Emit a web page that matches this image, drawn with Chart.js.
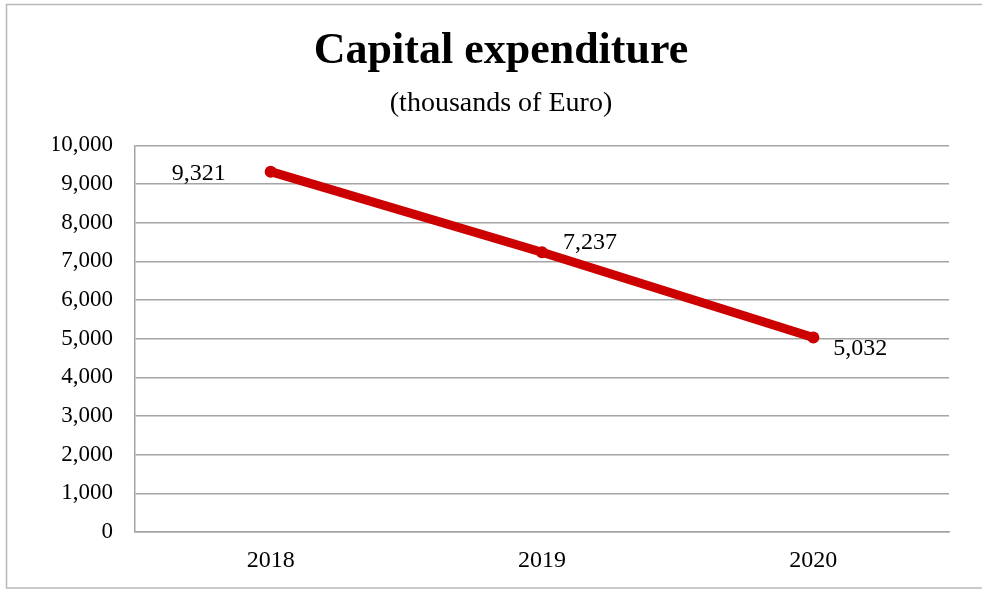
<!DOCTYPE html>
<html>
<head>
<meta charset="utf-8">
<script src="https://cdn.jsdelivr.net/npm/chart.js@4"></script>
<style>
  html, body { margin: 0; padding: 0; background: #ffffff; }
  #wrap { position: relative; width: 982px; height: 590px; }
</style>
</head>
<body>
<div id="wrap"><canvas id="c" width="982" height="590"></canvas></div>
<script>
const categories = ['2018', '2019', '2020'];
const capex = [9321, 7237, 5032];
const yTicks = [0, 1000, 2000, 3000, 4000, 5000, 6000, 7000, 8000, 9000, 10000];
const titleText = 'Capital expenditure';
const subtitleText = '(thousands of Euro)';

const SERIF = '"Liberation Serif", "Times New Roman", serif';

const framePlugin = {
  id: 'frame',
  beforeDraw(chart) {
    const ctx = chart.ctx;
    ctx.save();
    ctx.fillStyle = '#ffffff';
    ctx.fillRect(0, 0, chart.width, chart.height);
    ctx.strokeStyle = '#b8b8b8';
    ctx.lineWidth = 1.5;
    ctx.strokeRect(6.5, 4.5, 990, 583.5);
    ctx.restore();
  }
};

const labelPlugin = {
  id: 'pointLabels',
  afterDatasetsDraw(chart) {
    const ctx = chart.ctx;
    const meta = chart.getDatasetMeta(0);
    const placement = [
      { align: 'right', dx: -45, dy: 2 },
      { align: 'left', dx: 21, dy: -10 },
      { align: 'left', dx: 20, dy: 11 }
    ];
    ctx.save();
    ctx.font = '24px ' + SERIF;
    ctx.fillStyle = '#000000';
    ctx.textBaseline = 'middle';
    meta.data.forEach((pt, i) => {
      const p = placement[i];
      ctx.textAlign = p.align;
      ctx.fillText(capex[i].toLocaleString('en-US'), pt.x + p.dx, pt.y + p.dy);
    });
    ctx.restore();
  }
};

new Chart(document.getElementById('c'), {
  type: 'line',
  data: {
    labels: categories,
    datasets: [{
      data: capex,
      borderColor: '#cc0000',
      backgroundColor: '#cc0000',
      borderWidth: 9,
      pointRadius: 6,
      pointBackgroundColor: '#cc0000',
      pointBorderWidth: 0,
      tension: 0,
      fill: false
    }]
  },
  options: {
    responsive: false,
    animation: false,
    layout: { padding: { left: 53, right: 33, top: 0, bottom: 0 } },
    plugins: {
      legend: { display: false },
      tooltip: { enabled: false },
      title: {
        display: true,
        text: titleText,
        color: '#000000',
        font: { family: SERIF, size: 44, weight: 'bold', lineHeight: 1.2 },
        padding: { top: 25, bottom: 4 }
      },
      subtitle: {
        display: true,
        text: subtitleText,
        color: '#000000',
        font: { family: SERIF, size: 28, weight: 'normal', lineHeight: 1.2 },
        padding: { top: 5, bottom: 25 }
      }
    },
    scales: {
      x: {
        offset: true,
        grid: { display: false, drawTicks: false },
        border: { display: true, color: '#a4a4a4', width: 1.5 },
        ticks: {
          color: '#000000',
          padding: 14,
          font: { family: SERIF, size: 24 }
        },
        afterFit(scale) { scale.height = 58; }
      },
      y: {
        min: 0,
        max: 10000,
        afterBuildTicks(scale) { scale.ticks = yTicks.map(v => ({ value: v })); },
        grid: { color: '#a4a4a4', lineWidth: 1.5, drawTicks: false },
        border: { display: true, color: '#a4a4a4', width: 1.5 },
        ticks: {
          color: '#000000',
          padding: 22,
          font: { family: SERIF, size: 23 },
          callback: (v) => Number(v).toLocaleString('en-US')
        },
        afterFit(scale) { scale.width = 82; }
      }
    }
  },
  plugins: [framePlugin, labelPlugin]
});
</script>
</body>
</html>
